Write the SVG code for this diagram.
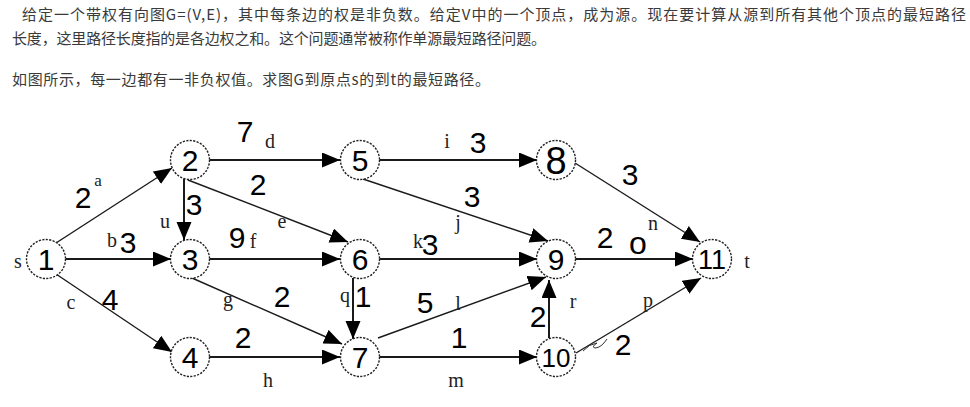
<svg xmlns="http://www.w3.org/2000/svg" width="970" height="407" viewBox="0 0 970 407">
<style>
.para{font-family:"Noto Sans CJK SC","Noto Sans",sans-serif;font-size:15px;fill:#3a3a3a}
.node circle{fill:#fff;stroke:#222;stroke-width:1.4;stroke-dasharray:2.2 1.3}
.node text{font-family:"Liberation Sans",Arial,sans-serif;font-size:30px;fill:#000;text-anchor:middle}
.e{stroke:#1a1a1a;fill:none;marker-end:url(#ah)}
.h{stroke-width:2}
.dg{stroke-width:1.4}
.w{font-family:"Liberation Sans",Arial,sans-serif;font-size:30px;fill:#000;text-anchor:middle}
.l{font-family:"Liberation Serif","Times New Roman",serif;font-size:20px;fill:#222;text-anchor:middle}
</style>
<defs>
<marker id="ah" markerUnits="userSpaceOnUse" markerWidth="19" markerHeight="16" refX="18" refY="7.5" orient="auto">
<path d="M0,0 L18,7.5 L0,15 z" fill="#000"/>
</marker>
</defs>
<rect width="970" height="407" fill="#fff"/>
<g id="intro">
<text class="para" x="22" y="20" textLength="944" lengthAdjust="spacing">给定一个带权有向图G=(V,E)，其中每条边的权是非负数。给定V中的一个顶点，成为源。现在要计算从源到所有其他个顶点的最短路径</text>
<text class="para" x="12" y="44" textLength="534" lengthAdjust="spacing">长度，这里路径长度指的是各边权之和。这个问题通常被称作单源最短路径问题。</text>
<text class="para" x="12" y="85" textLength="478" lengthAdjust="spacing">如图所示，每一边都有一非负权值。求图G到原点s的到t的最短路径。</text>
</g>
<g id="edges">
<line class="e dg" x1="56" y1="243" x2="172" y2="168"/>
<line class="e h" x1="65" y1="259" x2="171" y2="259"/>
<line class="e dg" x1="56" y1="274" x2="172" y2="352"/>
<line class="e h" x1="209" y1="160" x2="340" y2="160"/>
<line class="e h" x1="184" y1="179" x2="184" y2="240"/>
<line class="e dg" x1="188" y1="180" x2="348" y2="242"/>
<line class="e h" x1="209" y1="259" x2="340" y2="259"/>
<line class="e dg" x1="192" y1="278" x2="342" y2="344"/>
<line class="e h" x1="209" y1="357" x2="340" y2="357"/>
<line class="e h" x1="378" y1="160" x2="537" y2="160"/>
<line class="e dg" x1="363" y1="179" x2="548" y2="241"/>
<line class="e h" x1="378" y1="259" x2="537" y2="259"/>
<line class="e h" x1="353" y1="278" x2="353" y2="339"/>
<line class="e dg" x1="378" y1="338" x2="546" y2="277"/>
<line class="e h" x1="378" y1="357" x2="537" y2="357"/>
<line class="e h" x1="549" y1="338" x2="549" y2="280"/>
<line class="e dg" x1="575" y1="163" x2="700" y2="242"/>
<line class="e h" x1="575" y1="259" x2="693" y2="259"/>
<line class="e dg" x1="576" y1="353" x2="701" y2="278"/>
<path d="M583,351 q6,-7 14,-8 q-6,4 -2,5 q6,0 12,-9" fill="none" stroke="#333" stroke-width="1"/>
</g>
<g id="edge-labels">
<text class="w" x="245" y="142">7</text><text class="l" x="270" y="148">d</text>
<text class="w" x="83" y="208">2</text><text class="l" x="98" y="186" style="font-size:17px">a</text>
<text class="w" x="194" y="215">3</text><text class="l" x="165" y="228">u</text>
<text class="w" x="258" y="195">2</text><text class="l" x="282" y="228">e</text>
<text class="l" x="112" y="247">b</text><text class="w" x="128" y="253">3</text>
<text class="w" x="237" y="248">9</text><text class="l" x="253" y="248">f</text>
<text class="l" x="71" y="309">c</text><text class="w" x="110" y="310">4</text>
<text class="l" x="228" y="306">g</text><text class="w" x="282" y="307">2</text>
<text class="w" x="243" y="348">2</text><text class="l" x="268" y="387">h</text>
<text class="l" x="447" y="148">i</text><text class="w" x="478" y="153">3</text>
<text class="w" x="472" y="207">3</text><text class="l" x="458" y="229">j</text>
<text class="l" x="418" y="248">k</text><text class="w" x="430" y="255">3</text>
<text class="w" x="630" y="185">3</text><text class="l" x="653" y="230">n</text>
<text class="w" x="605" y="248">2</text><text class="w" x="638" y="254" style="font-size:32px">o</text>
<text class="w" x="363" y="307">1</text><text class="l" x="345" y="302">q</text>
<text class="w" x="425" y="313">5</text><text class="l" x="458" y="310">l</text>
<text class="w" x="459" y="348">1</text><text class="l" x="456" y="387">m</text>
<text class="w" x="538" y="327">2</text><text class="l" x="573" y="308">r</text>
<text class="l" x="648" y="307">p</text><text class="w" x="623" y="355">2</text>
<text class="l" x="18" y="268">s</text>
<text class="l" x="747" y="268">t</text>
</g>
<g id="n1" class="node"><circle cx="46" cy="259" r="19.5"/><text x="46" y="270">1</text></g>
<g id="n2" class="node"><circle cx="190" cy="160" r="19.5"/><text x="190" y="171">2</text></g>
<g id="n3" class="node"><circle cx="190" cy="259" r="19.5"/><text x="190" y="270">3</text></g>
<g id="n4" class="node"><circle cx="190" cy="357" r="19.5"/><text x="190" y="368">4</text></g>
<g id="n5" class="node"><circle cx="360" cy="160" r="19.5"/><text x="360" y="171">5</text></g>
<g id="n6" class="node"><circle cx="360" cy="259" r="19.5"/><text x="360" y="270">6</text></g>
<g id="n7" class="node"><circle cx="360" cy="357" r="19.5"/><text x="360" y="368">7</text></g>
<g id="n8" class="node"><circle cx="556" cy="160" r="19.5"/><text x="556" y="174" style="font-size:38px">8</text></g>
<g id="n9" class="node"><circle cx="556" cy="259" r="19.5"/><text x="556" y="270">9</text></g>
<g id="n10" class="node"><circle cx="556" cy="357" r="19.5"/><text x="556" y="367" style="font-size:26px">10</text></g>
<g id="n11" class="node"><circle cx="712" cy="259" r="19.5"/><text x="712" y="269" style="font-size:27px">11</text></g>
</svg>
